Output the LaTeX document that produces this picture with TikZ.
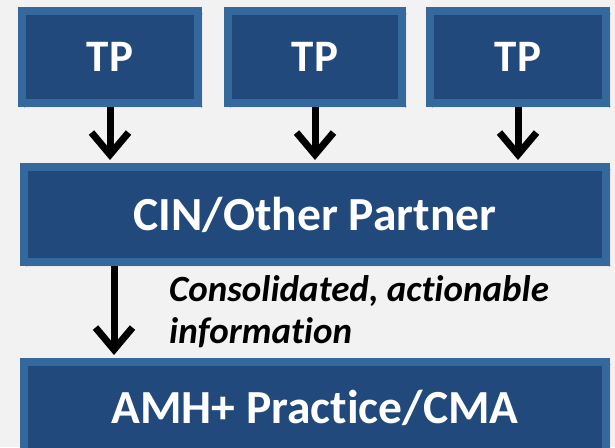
\documentclass[tikz,border=0pt]{standalone}
\usepackage{fontspec}
\setmainfont{Carlito}[Ligatures=CommonOff]
\usetikzlibrary{arrows.meta,shadows.blur}
\definecolor{boxfill}{HTML}{22497C}
\definecolor{boxedge}{HTML}{35689C}
\definecolor{bggray}{HTML}{F2F2F2}
\begin{document}
\begin{tikzpicture}[x=1pt, y=-1pt,
    box/.style={draw=boxedge, fill=boxfill, line width=8pt, text=white,
      font=\bfseries, blur shadow={shadow xshift=3pt, shadow yshift=-3pt, shadow blur steps=6}},
    flow/.style={line width=7pt, -{Straight Barb[length=22pt, width=37pt]}, shorten >=3pt}]
  \clip (0,0) rectangle (615,447);
  \fill[bggray] (0,0) rectangle (615,447);

  \node[box, minimum width=176pt, minimum height=92pt, font=\fontsize{45}{48}\bfseries\selectfont] (tpa) at (110,57) {TP};
  \node[box, minimum width=174pt, minimum height=92pt, font=\fontsize{45}{48}\bfseries\selectfont] (tpb) at (315,57) {TP};
  \node[box, minimum width=176pt, minimum height=92pt, font=\fontsize{45}{48}\bfseries\selectfont] (tpc) at (518,57) {TP};
  \node[box, minimum width=582pt, minimum height=95pt, font=\fontsize{47.5}{50}\bfseries\selectfont] (cin) at (315,214.5) {CIN/Other Partner};
  \node[box, minimum width=582pt, minimum height=92pt, font=\fontsize{47.5}{50}\bfseries\selectfont] (amh) at (315,408) {AMH+ Practice/CMA};

  \draw[flow] (tpa.south) -- (tpa.south |- cin.north);
  \draw[flow] (tpb.south) -- (tpb.south |- cin.north);
  \draw[flow] (tpc.south) -- (tpc.south |- cin.north);
  \coordinate (down) at (114,0);
  \draw[flow] (down |- cin.south) -- (down |- amh.north);

  \node[anchor=base west, align=left, inner sep=0pt,
    font=\fontsize{37}{42}\bfseries\itshape\selectfont] (info) at (169,343)
    {Consolidated, actionable\\information};
\end{tikzpicture}
\end{document}
